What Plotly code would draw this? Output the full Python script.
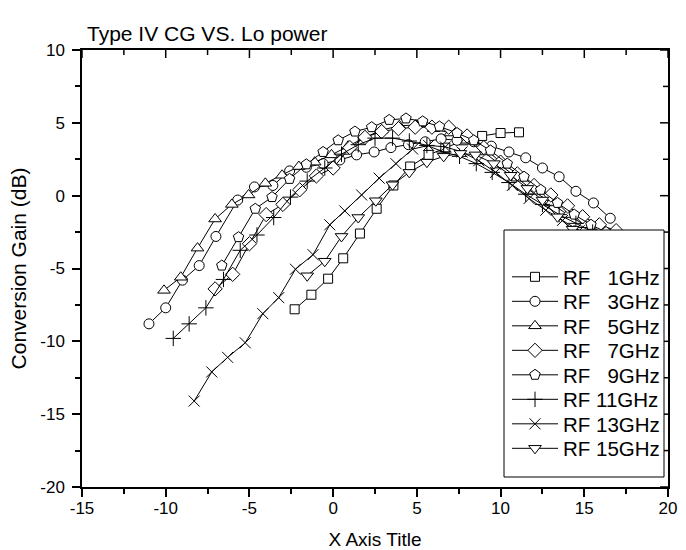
import plotly.graph_objects as go

# ---------------- data ----------------
x_1ghz = [-2.3, -1.3, -0.3, 0.6, 1.6, 2.6, 3.6, 4.6, 5.7, 6.7, 7.8, 8.9, 10.0, 11.1]
y_1ghz = [-7.8, -6.8, -5.7, -4.3, -2.6, -0.9, 0.7, 2.0, 2.8, 3.3, 3.8, 4.1, 4.3, 4.35]

x_3ghz = [-11.0, -10.0, -9.0, -8.0, -7.0, -5.7, -4.7, -3.6, -2.6, -1.6, -0.6, 0.4, 1.4, 2.45,
          3.45, 4.5, 5.5, 6.45, 7.4, 8.4, 9.45, 10.5, 11.5, 12.5, 13.5, 14.5, 15.55, 16.55]
y_3ghz = [-8.8, -7.7, -5.8, -4.8, -2.8, -0.3, 0.6, 0.7, 1.7, 1.95, 2.2, 2.45, 2.8, 3.0,
          3.3, 3.5, 3.7, 3.9, 3.8, 3.7, 3.4, 3.0, 2.6, 1.9, 1.3, 0.3, -0.5, -1.55]

x_5ghz = [-10.1, -9.1, -8.1, -7.05, -6.05, -5.05, -4.05, -3.05, -2.05, -1.1, -0.1, 0.9, 1.9,
          2.9, 3.95, 4.95, 6.0, 7.0, 8.0, 9.0, 10.0, 11.0, 12.0, 13.0, 14.0, 15.0, 16.0]
y_5ghz = [-6.5, -5.6, -3.6, -1.6, -0.6, 0.05, 0.85, 1.4, 2.0, 2.3, 2.8, 3.4, 4.0,
          4.5, 4.8, 4.85, 4.6, 4.3, 3.8, 3.0, 2.1, 1.2, 0.3, -0.5, -1.3, -2.0, -2.5]

x_7ghz = [-7.05, -6.0, -5.0, -4.0, -3.0, -2.0, -1.0, 0.0, 1.0, 1.9, 2.9, 3.9, 4.9, 5.9, 6.9,
          8.0, 9.0, 10.0, 11.0, 12.0, 13.0, 14.0, 14.9, 15.9, 16.9]
y_7ghz = [-6.4, -5.4, -3.3, -1.3, -0.6, 0.4, 1.35, 1.9, 3.3, 4.0, 4.4, 4.6, 4.7, 4.7, 4.7,
          4.1, 3.3, 2.3, 1.5, 0.7, 0.05, -0.7, -1.45, -2.0, -2.4]

x_9ghz = [-6.65, -5.65, -4.65, -3.65, -2.6, -1.6, -0.6, 0.3, 1.3, 2.3, 3.35, 4.35, 5.35, 6.35,
          7.4, 8.4, 9.4, 10.4, 11.4, 12.4, 13.4, 14.4, 15.4, 16.3]
y_9ghz = [-4.8, -2.85, -0.9, -0.1, 1.15, 2.15, 3.0, 3.8, 4.4, 4.7, 5.2, 5.3, 5.1, 4.75,
          4.3, 3.8, 3.1, 2.2, 1.3, 0.4, -0.5, -1.3, -2.0, -2.5]

x_11ghz = [-9.55, -8.6, -7.6, -6.55, -5.55, -4.55, -3.55, -2.55, -1.55, -0.5, 0.5, 1.5, 2.5,
           3.55, 4.55, 5.6, 6.6, 7.55, 8.55, 9.5, 10.5, 11.5, 12.5, 13.5, 14.5, 15.5]
y_11ghz = [-9.8, -8.8, -7.7, -5.75, -3.75, -2.7, -1.5, -0.1, 1.0, 1.9, 2.85, 3.5, 3.95,
           3.95, 3.75, 3.45, 3.0, 2.7, 2.2, 1.6, 0.9, 0.1, -0.6, -1.3, -1.9, -2.5]

x_13ghz = [-8.3, -7.25, -6.3, -5.25, -4.2, -3.25, -2.25, -1.2, -0.2, 0.7, 1.7, 2.75, 3.75,
           4.75, 5.7, 6.7, 7.7, 8.7, 9.7, 10.7, 11.7, 12.7, 13.7, 14.7]
y_13ghz = [-14.1, -12.1, -11.1, -10.1, -8.1, -7.0, -5.05, -4.05, -2.0, -1.05, 0.05, 1.2, 2.2,
           3.2, 3.45, 3.35, 3.0, 2.4, 1.6, 0.7, -0.2, -1.0, -1.7, -2.4]

x_15ghz = [-1.55, -0.5, 0.5, 1.5, 2.55, 3.55, 4.55, 5.6, 6.6, 7.6, 8.5, 9.6, 10.6, 11.6,
           12.5, 13.4, 14.3]
y_15ghz = [-5.5, -4.5, -2.8, -1.5, -0.35, 0.75, 1.6, 2.3, 2.7, 2.9, 2.8, 2.2, 1.4, 0.5,
           -0.3, -1.45, -2.3]

series_names = ["RF\u00a0\u00a0\u00a01GHz", "RF\u00a0\u00a0\u00a03GHz", "RF\u00a0\u00a0\u00a05GHz",
                "RF\u00a0\u00a0\u00a07GHz", "RF\u00a0\u00a0\u00a09GHz", "RF 11GHz", "RF 13GHz", "RF 15GHz"]
series_x = [x_1ghz, x_3ghz, x_5ghz, x_7ghz, x_9ghz, x_11ghz, x_13ghz, x_15ghz]
series_y = [y_1ghz, y_3ghz, y_5ghz, y_7ghz, y_9ghz, y_11ghz, y_13ghz, y_15ghz]

x_range = [-15, 20]
y_range = [-20, 10]
x_ticks = [-15, -10, -5, 0, 5, 10, 15, 20]
x_ticklabels = ["-15", "-10", "-5", "0", "5", "10", "15", "20"]
y_ticks = [-20, -15, -10, -5, 0, 5, 10]
y_ticklabels = ["-20", "-15", "-10", "-5", "0", "5", "10"]

title_text = "Type IV CG VS. Lo power"
x_title = "X Axis Title"
y_title = "Conversion Gain (dB)"

# ---------------- styling ----------------
FONT = "Arial, 'Liberation Sans', sans-serif"
symbols = ["square", "circle", "triangle-up", "diamond", "pentagon", "cross-thin", "x-thin", "triangle-down"]
sizes = [9, 10, 11, 11, 11, 11, 11, 11]

W, H = 686, 550
L, R, T, B = 82, 668, 50, 487
PW, PH = R - L, B - T
MAJOR_LEN, MINOR_LEN = 8, 5


def px_x(p):
    return (p - L) / PW


def px_y(p):
    return (B - p) / PH


fig = go.Figure()

legend_centers = [277.0 + 24.5 * i for i in range(8)]

for i in range(8):
    lg = "legend" if i == 0 else f"legend{i+1}"
    fig.add_trace(go.Scatter(
        x=series_x[i], y=series_y[i], mode="lines+markers", name=series_names[i],
        line=dict(color="black", width=1),
        marker=dict(symbol=symbols[i], size=sizes[i], color="white",
                    line=dict(color="black", width=1)),
        legend=lg,
    ))

layout_legends = {}
for i in range(8):
    lg = "legend" if i == 0 else f"legend{i+1}"
    layout_legends[lg] = dict(
        x=px_x(507), y=px_y(legend_centers[i]), xanchor="left", yanchor="middle",
        bgcolor="rgba(0,0,0,0)", borderwidth=0,
        font=dict(family=FONT, size=20.5, color="black"),
        itemsizing="trace", itemwidth=46,
    )

# mirrored inside ticks on the top and right frame edges (lengths converted from pixels)
x_per_px = (x_range[1] - x_range[0]) / PW
y_per_px = (y_range[1] - y_range[0]) / PH
x_minor = [(a + b) / 2 for a, b in zip(x_ticks[:-1], x_ticks[1:])]
y_minor = [(a + b) / 2 for a, b in zip(y_ticks[:-1], y_ticks[1:])]
tick_shapes = []
for vals, ln in ((x_ticks, MAJOR_LEN), (x_minor, MINOR_LEN)):
    for v in vals:
        tick_shapes.append(dict(type="line", xref="x", yref="y", x0=v, x1=v,
                                y0=y_range[1], y1=y_range[1] - ln * y_per_px,
                                line=dict(color="black", width=1.5), layer="above"))
for vals, ln in ((y_ticks, MAJOR_LEN), (y_minor, MINOR_LEN)):
    for v in vals:
        tick_shapes.append(dict(type="line", xref="x", yref="y", y0=v, y1=v,
                                x0=x_range[1], x1=x_range[1] - ln * x_per_px,
                                line=dict(color="black", width=1.5), layer="above"))

legend_box = dict(type="rect", xref="paper", yref="paper",
                  x0=px_x(504), x1=px_x(664), y0=px_y(477), y1=px_y(230),
                  line=dict(color="black", width=1), fillcolor="white", layer="above")

axis_common = dict(showgrid=False, zeroline=False, color="black", automargin=False,
                   ticks="outside", ticklen=MAJOR_LEN, tickwidth=1.5, tickcolor="black",
                   showline=True, linecolor="black", linewidth=1.5, mirror=True)

fig.update_layout(
    width=W, height=H,
    margin=dict(l=L, r=W - R, t=T, b=H - B, pad=0),
    paper_bgcolor="white", plot_bgcolor="white",
    font=dict(family=FONT, color="black"),
    showlegend=True,
    xaxis=dict(range=x_range, tickmode="array", tickvals=x_ticks, ticktext=x_ticklabels,
               minor=dict(tickmode="array", tickvals=x_minor, ticks="outside", ticklen=MINOR_LEN,
                          tickwidth=1.5, tickcolor="black", showgrid=False),
               tickfont=dict(size=17, family=FONT, color="black"),
               ticklabelstandoff=-3,
               title=dict(text=x_title, font=dict(size=19, family=FONT, color="black"), standoff=18),
               **axis_common),
    yaxis=dict(range=y_range, tickmode="array", tickvals=y_ticks, ticktext=y_ticklabels,
               minor=dict(tickmode="array", tickvals=y_minor, ticks="outside", ticklen=MINOR_LEN,
                          tickwidth=1.5, tickcolor="black", showgrid=False),
               tickfont=dict(size=17, family=FONT, color="black"),
               ticklabelstandoff=4,
               title=dict(text=y_title, font=dict(size=21, family=FONT, color="black"), standoff=8),
               **axis_common),
    shapes=tick_shapes + [legend_box],
    annotations=[dict(text=title_text, xref="paper", yref="paper", x=px_x(85), y=px_y(33),
                      xanchor="left", yanchor="middle", showarrow=False,
                      font=dict(size=21, family=FONT, color="black"))],
    **layout_legends,
)

fig.write_html("out.html")
